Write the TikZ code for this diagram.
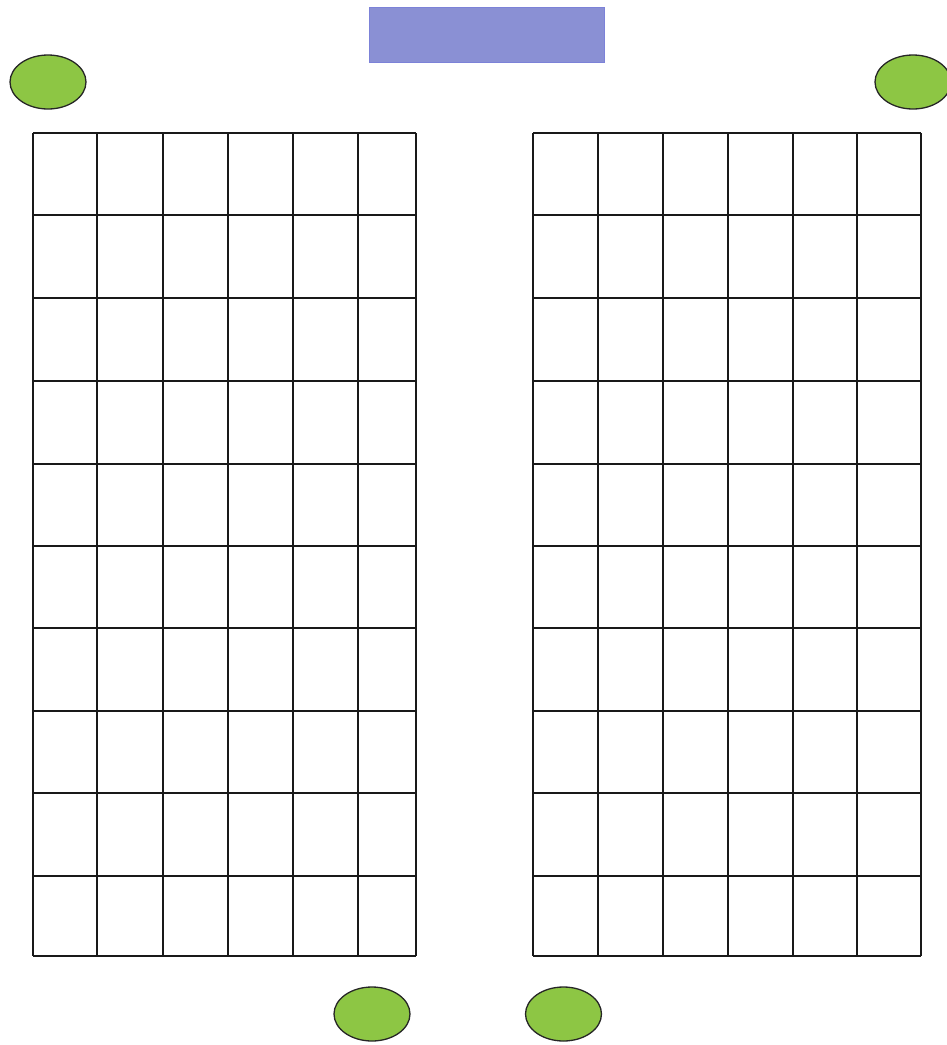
\documentclass[tikz,border=0pt]{standalone}
\usetikzlibrary{shapes.geometric}
\definecolor{seatgreen}{RGB}{141,198,68}
\definecolor{boardblue}{RGB}{138,144,212}
\tikzset{
  seat/.style={ellipse, draw=black!85, line width=1.3pt, fill=seatgreen, minimum width=76pt, minimum height=54pt, inner sep=0pt},
  board/.style={rectangle, fill=boardblue, draw=boardblue!90!blue, line width=0.6pt, minimum width=235pt, minimum height=55pt, inner sep=0pt},
  gridline/.style={line width=1.8pt, draw=black!90}
}
\begin{document}
\begin{tikzpicture}[x=1pt,y=-1pt]
\useasboundingbox (0,0) rectangle (947,1045);
\clip (0,0) rectangle (947,1045);
\node[board] (screen) at (486.5,34.5) {};
\node[seat] (tl) at (48,82) {};
\node[seat] (tr) at (913,82) {};
\node[seat] (bl) at (372,1014) {};
\node[seat] (br) at (563.5,1014) {};
% left grid
\foreach \x in {33,97,163,228,293,358,416}
  \draw[gridline] (\x,133) -- (\x,956);
\foreach \y in {133,215,298,381,464,546,628,711,793,876,956}
  \draw[gridline] (33,\y) -- (416,\y);
% right grid
\foreach \x in {533,598,663,728,793,857,921}
  \draw[gridline] (\x,133) -- (\x,956);
\foreach \y in {133,215,298,381,464,546,628,711,793,876,956}
  \draw[gridline] (533,\y) -- (921,\y);
\end{tikzpicture}
\end{document}
